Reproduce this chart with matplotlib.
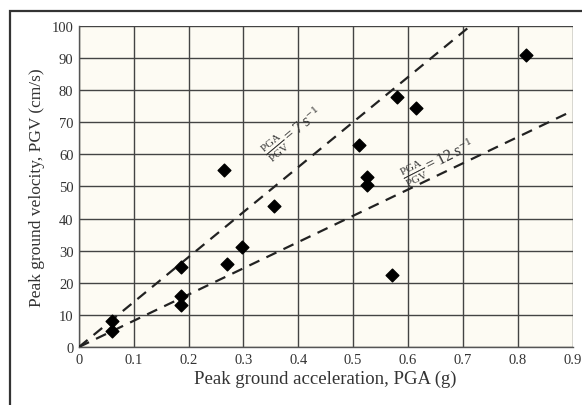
import numpy as np
import matplotlib
matplotlib.use("Agg")
import matplotlib.pyplot as plt
from matplotlib.patches import Rectangle

# Peak ground acceleration (g) and peak ground velocity (cm/s)
pga = [0.06, 0.06, 0.186, 0.186, 0.186, 0.265, 0.27, 0.298, 0.356,
       0.51, 0.526, 0.526, 0.57, 0.58, 0.615, 0.815]
pgv = [5, 8, 25, 16, 13, 55, 26, 31, 44,
       63, 53, 50.5, 22.5, 78, 74.5, 91]

# PGA/PGV ratios (1/s) drawn as reference lines
ratios = [7, 12]
g_cms = 981.0

plt.rcParams['font.family'] = ['Liberation Serif', 'DejaVu Serif']
plt.rcParams['mathtext.fontset'] = 'custom'
plt.rcParams['mathtext.rm'] = 'Liberation Serif'
plt.rcParams['mathtext.it'] = 'Liberation Serif:italic'

fig = plt.figure(figsize=(5.82, 4.06), dpi=100)
fig.patch.set_facecolor('white')
ax = fig.add_axes([0.1357, 0.1429, 0.848, 0.7906])
ax.set_facecolor('#fdfbf3')

# outer border of the scanned figure
fig.patches.append(Rectangle((0.017, -0.02), 1.0, 0.99, transform=fig.transFigure,
                             fill=False, edgecolor='#333333', linewidth=1.6))

xx = np.array([0, 0.9])
for r in ratios:
    ax.plot(xx, xx * g_cms / r, color='#222222', linestyle=(0, (5, 3.5)), linewidth=1.6, zorder=3)

ax.scatter(pga, pgv, marker='D', s=42, color='black', zorder=4)

ax.text(0.39, 67, r'$\frac{\mathrm{PGA}}{\mathrm{PGV}} = 7\ s^{-1}$', rotation=40,
        ha='center', va='center', fontsize=11.5, color='#333333')
ax.text(0.655, 58, r'$\frac{\mathrm{PGA}}{\mathrm{PGV}} = 12\ s^{-1}$', rotation=27,
        ha='center', va='center', fontsize=11.5, color='#333333')

ax.set_xlim(0, 0.9)
ax.set_ylim(0, 100)
ax.set_xticks(np.arange(0, 0.91, 0.1))
ax.set_xticklabels(['0', '0.1', '0.2', '0.3', '0.4', '0.5', '0.6', '0.7', '0.8', '0.9'])
ax.set_yticks(np.arange(0, 101, 10))
ax.tick_params(length=0, labelsize=10.5, pad=4, colors='#333333')
ax.grid(True, color='#444444', linewidth=1.0)
ax.set_axisbelow(True)
for s in ax.spines.values():
    s.set_color('#555555')
    s.set_linewidth(1.0)
ax.spines['top'].set_visible(False)
ax.spines['right'].set_visible(False)

ax.set_xlabel('Peak ground acceleration, PGA (g)', fontsize=13.5, color='#333333', labelpad=3)
ax.set_ylabel('Peak ground velocity, PGV (cm/s)', fontsize=12.5, color='#333333', labelpad=5)

fig.savefig('out.png', dpi=100)
